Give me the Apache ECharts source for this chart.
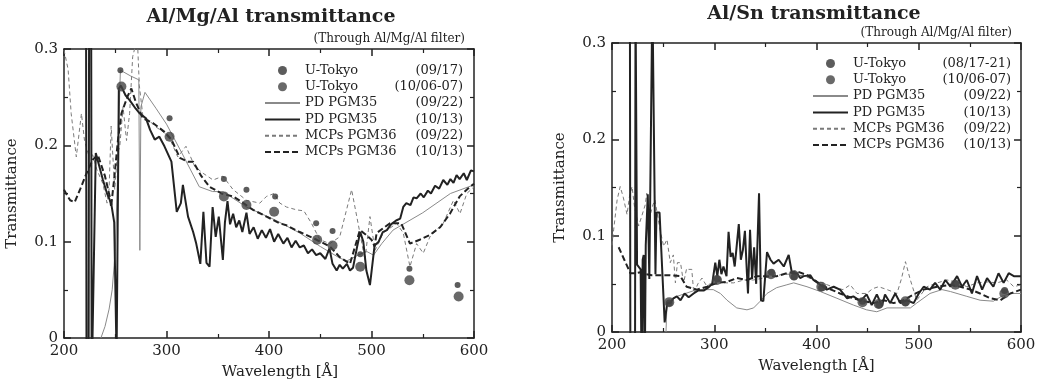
<!DOCTYPE html>
<html>
<head>
<meta charset="UTF-8">
<title>Transmittance</title>
<style>
  html, body { margin: 0; padding: 0; background: #fff; }
  #chart { width: 1039px; height: 387px; }
</style>
<script src="https://cdn.jsdelivr.net/npm/echarts@6/dist/echarts.min.js"></script>
</head>
<body>
<div id="chart"></div>
<script>
// ---- Al/Mg/Al (left) ----
const leftTokyoA = [[255,0.278],[303,0.228],[356,0.165],[378,0.154],[406,0.147],[446,0.119],[462,0.111],[489,0.087],[537,0.072],[584,0.055]];
const leftTokyoB = [[256,0.261],[303,0.209],[356,0.147],[378,0.138],[405,0.131],[447,0.102],[462,0.096],[489,0.074],[537,0.060],[585,0.043]];
const leftPdA = [[236,0],[240,0.012],[244,0.03],[247,0.05],[250,0.09],[252,0.16],[254,0.24],[255,0.278],[265,0.272],[273,0.268],[274,0.091],[275,0.24],[279,0.255],[290,0.238],[300,0.222],[315,0.192],[332,0.157],[345,0.152],[355,0.152],[365,0.145],[378,0.136],[407,0.122],[430,0.109],[450,0.095],[469,0.083],[476,0.080],[485,0.085],[495,0.09],[502,0.086],[510,0.098],[521,0.112],[550,0.13],[577,0.150],[600,0.159]];
const leftPdB = [[221.5,0.35],[222,-0.05],[224,-0.05],[224.5,0.35],[226.5,0.35],[227,-0.05],[228.5,-0.05],[231,0.192],[234,0.18],[238,0.164],[242,0.15],[246,0.14],[249,0.12],[251.3,-0.02],[252,-0.02],[253.5,0.259],[255.5,0.262],[260,0.252],[264,0.247],[270,0.238],[274,0.233],[280,0.228],[284,0.216],[288.5,0.206],[293,0.209],[298,0.199],[304.8,0.183],[310,0.131],[314,0.140],[316,0.159],[321,0.126],[326,0.110],[329,0.098],[333,0.077],[336,0.131],[339,0.078],[342,0.074],[345,0.136],[348,0.105],[351,0.126],[355,0.081],[357,0.12],[359.5,0.142],[362,0.118],[365,0.129],[368,0.115],[371,0.122],[374,0.110],[378,0.13],[381,0.108],[385,0.115],[389,0.103],[393,0.112],[397,0.104],[401,0.113],[405,0.100],[409,0.108],[414,0.098],[418,0.104],[422,0.094],[426,0.101],[430,0.094],[434,0.096],[438,0.088],[442,0.092],[446,0.086],[450,0.088],[455,0.082],[459,0.093],[462,0.077],[466,0.070],[469,0.076],[472,0.072],[476,0.077],[479,0.070],[482,0.073],[486,0.095],[489,0.110],[492,0.100],[495,0.070],[498.5,0.055],[503,0.096],[507,0.100],[511,0.110],[515,0.112],[519,0.118],[524,0.122],[528,0.124],[531,0.136],[534,0.140],[538,0.138],[541,0.146],[544,0.145],[548,0.150],[551,0.146],[555,0.153],[558,0.150],[562,0.158],[566,0.155],[570,0.164],[574,0.159],[577,0.165],[580,0.161],[583,0.169],[586,0.165],[590,0.171],[593,0.164],[597,0.174],[600,0.173]];
const leftMcpA = [[200,0.299],[204,0.279],[207,0.233],[212,0.188],[217,0.233],[220,0.205],[224,0.19],[228,0.19],[232,0.175],[238,0.16],[242,0.14],[244,0.155],[246,0.22],[249.5,0.154],[252,0.19],[254.5,0.2],[257.6,0.24],[261,0.205],[264,0.233],[267,0.292],[270,0.305],[272,0.3],[273.5,0.262],[277,0.23],[283,0.226],[288.5,0.22],[298,0.213],[304,0.205],[311,0.188],[319,0.199],[327.6,0.178],[335.7,0.171],[345.5,0.164],[355,0.168],[365,0.154],[378,0.143],[391,0.140],[397.6,0.147],[405,0.150],[410.6,0.140],[417,0.136],[427,0.133],[434,0.132],[441.5,0.119],[449.6,0.102],[459.4,0.098],[469,0.105],[480.6,0.154],[488.7,0.109],[493.6,0.081],[498.5,0.126],[503.4,0.091],[511.4,0.109],[524.5,0.119],[531,0.109],[537.5,0.074],[544,0.098],[550.5,0.088],[557,0.105],[570,0.119],[580,0.143],[586.3,0.129],[593,0.150],[600,0.157]];
const leftMcpB = [[200,0.154],[202,0.150],[206,0.143],[210.4,0.141],[216,0.155],[222,0.171],[228,0.185],[233,0.19],[240,0.168],[244.6,0.147],[246,0.136],[249.5,0.171],[252.7,0.206],[256,0.233],[259,0.242],[262.5,0.252],[265.7,0.259],[270,0.245],[277,0.228],[287,0.223],[298,0.214],[304.8,0.206],[313,0.187],[321,0.183],[326,0.183],[334,0.168],[342,0.157],[353.6,0.150],[365,0.147],[375,0.140],[384.5,0.133],[397.6,0.126],[410.6,0.119],[417,0.117],[430,0.110],[446.4,0.102],[459.4,0.095],[469,0.084],[479,0.077],[488.7,0.112],[493.6,0.108],[500,0.102],[503,0.095],[505,0.109],[518,0.119],[529,0.119],[537.5,0.098],[547,0.102],[557,0.107],[567,0.115],[576.5,0.129],[586,0.147],[596,0.157],[600,0.160]];

// ---- Al/Sn (right) ----
const rightTokyoA = [[256,0.030],[303,0.055],[356,0.062],[378,0.057],[405,0.046],[445,0.032],[461,0.028],[487,0.030],[536,0.050],[584,0.043]];
const rightTokyoB = [[256,0.031],[302.7,0.054],[355.5,0.060],[378,0.059],[404.7,0.047],[445,0.031],[460.8,0.029],[487,0.032],[535.8,0.049],[583.7,0.040]];
const rightPdA = [[252.8,0],[253.8,0.03],[263.6,0.037],[283,0.044],[299,0.044],[306,0.040],[312.5,0.033],[322,0.025],[332,0.023],[338.5,0.025],[345,0.032],[351.6,0.040],[361,0.046],[371,0.049],[377.7,0.051],[390.7,0.047],[403.8,0.042],[420,0.035],[436,0.028],[449,0.023],[459,0.021],[469,0.025],[478.7,0.025],[491.8,0.025],[498,0.030],[511,0.040],[522.7,0.044],[531,0.042],[547,0.037],[560,0.033],[573,0.032],[581,0.037],[589.6,0.040],[600,0.040]];
const rightPdB = [[217.5,0.35],[218,-0.05],[222.5,-0.05],[223,0.35],[223.5,0.35],[224.5,0.07],[228,0.065],[229,-0.05],[230,0.075],[231,0.08],[232,-0.05],[233,0.09],[235,0.143],[236.5,0.055],[239.5,0.35],[241,0.35],[242.5,0.06],[243.5,0.124],[246.5,0.124],[251.5,0.01],[254,0.03],[257,0.030],[260,0.035],[263.4,0.037],[267,0.033],[271,0.040],[275,0.036],[279.8,0.040],[284,0.043],[289.6,0.043],[294,0.046],[298,0.050],[301,0.072],[303,0.058],[305,0.075],[307,0.060],[309,0.068],[312,0.058],[314,0.104],[316,0.078],[318,0.082],[320,0.068],[322,0.090],[324,0.112],[326,0.075],[328,0.085],[330,0.105],[332,0.060],[333,0.040],[335,0.106],[337,0.055],[339,0.088],[341,0.050],[343.8,0.144],[345.7,0.033],[348,0.032],[351.6,0.083],[355,0.075],[358,0.071],[363,0.075],[368,0.068],[372.8,0.080],[376,0.061],[381,0.061],[384,0.056],[387.5,0.058],[394,0.059],[397,0.054],[403.7,0.049],[410,0.044],[416.8,0.047],[423,0.044],[430,0.035],[436,0.037],[443,0.032],[449,0.039],[454,0.028],[459,0.039],[464,0.027],[467,0.039],[472,0.030],[477,0.040],[482,0.030],[488.5,0.033],[495,0.030],[500,0.040],[504.8,0.047],[511,0.044],[516,0.051],[521,0.044],[526,0.054],[531,0.047],[537.5,0.058],[542.3,0.047],[547,0.054],[552,0.040],[557,0.058],[562,0.044],[566.8,0.056],[573,0.047],[578,0.061],[583,0.051],[588,0.061],[593,0.058],[600,0.058]];
const rightMcpA = [[200,0.09],[201.6,0.106],[205,0.137],[208,0.151],[211,0.14],[214.7,0.122],[217,0.14],[219.6,0.151],[222,0.13],[226,0.110],[229,0.12],[232.5,0.132],[234,0.144],[237,0.12],[240,0.132],[242,0.137],[247,0.106],[250.5,0.089],[253.8,0.096],[257,0.072],[260,0.08],[262,0.051],[264,0.072],[267,0.072],[270,0.051],[273,0.066],[275,0.065],[278,0.065],[280,0.040],[284,0.05],[288,0.056],[293,0.047],[301,0.056],[309,0.051],[319,0.051],[329,0.054],[338.6,0.054],[348,0.056],[358,0.058],[368,0.060],[378,0.060],[388,0.058],[398,0.054],[408,0.050],[418,0.046],[426,0.044],[433,0.049],[439.6,0.040],[449,0.040],[455,0.045],[460.8,0.047],[469,0.044],[478.7,0.040],[483,0.055],[487,0.073],[491.8,0.054],[498,0.033],[508,0.047],[518,0.051],[527.6,0.054],[537.4,0.052],[547,0.047],[557,0.051],[566.8,0.052],[576.5,0.051],[586,0.054],[593,0.047],[600,0.049]];
const rightMcpB = [[206.5,0.088],[212,0.075],[218,0.061],[222.8,0.061],[228,0.062],[233,0.060],[239,0.059],[247,0.059],[256,0.059],[266.8,0.058],[273,0.047],[283,0.044],[293,0.047],[302.7,0.051],[312.5,0.052],[322,0.056],[332,0.054],[341.8,0.058],[351.6,0.058],[361.4,0.058],[371,0.061],[381,0.063],[390.7,0.059],[400.5,0.052],[410,0.046],[423,0.040],[436,0.035],[446,0.032],[456,0.030],[465.7,0.033],[475.5,0.030],[485,0.033],[495,0.039],[504.8,0.044],[517.9,0.047],[531,0.049],[540.7,0.047],[550.5,0.044],[560,0.040],[570,0.035],[579.8,0.033],[589.6,0.040],[600,0.044]];

const leftNames = ['U-Tokyo (09/17)', 'U-Tokyo (10/06-07)', 'PD PGM35 (09/22)', 'PD PGM35 (10/13)', 'MCPs PGM36 (09/22)', 'MCPs PGM36 (10/13)'];
const rightNames = ['U-Tokyo (08/17-21)', 'U-Tokyo (10/06-07)', 'PD PGM35 (09/22)', 'PD PGM35 (10/13)', 'MCPs PGM36 (09/22)', 'MCPs PGM36 (10/13)'];

const FONT = '"DejaVu Serif", "Liberation Serif", serif';
const INK = '#222';

const chart = echarts.init(document.getElementById('chart'));

function xAxes(g) {
  const base = {
    type: 'value', gridIndex: g, min: 200, max: 600, interval: 100,
    axisLine: { show: true, onZero: false, lineStyle: { color: INK, width: 1.5 } },
    axisTick: { inside: true, length: 7, lineStyle: { color: INK, width: 1.5 } },
    minorTick: { show: true, splitNumber: 2, length: 4, lineStyle: { color: INK, width: 1.2 } },
    splitLine: { show: false }
  };
  return [
    Object.assign({}, base, {
      position: 'bottom',
      axisLabel: { margin: 6, fontFamily: FONT, fontSize: 15, color: INK },
      name: 'Wavelength [Å]', nameLocation: 'middle', nameGap: 27,
      nameTextStyle: { fontFamily: FONT, fontSize: 15, color: INK, padding: g === 0 ? [0, 0, 0, 22] : 0 }
    }),
    Object.assign({}, base, { position: 'top', axisLabel: { show: false } })
  ];
}

function yAxes(g) {
  const base = {
    type: 'value', gridIndex: g, min: 0, max: 0.3, interval: 0.1,
    axisLine: { show: true, onZero: false, lineStyle: { color: INK, width: 1.5 } },
    axisTick: { inside: true, length: 7, lineStyle: { color: INK, width: 1.5 } },
    minorTick: { show: true, splitNumber: 2, length: 4, lineStyle: { color: INK, width: 1.2 } },
    splitLine: { show: false }
  };
  return [
    Object.assign({}, base, {
      position: 'left',
      axisLabel: { margin: 6, fontFamily: FONT, fontSize: 15, color: INK },
      name: 'Transmittance', nameLocation: 'middle', nameGap: 44,
      nameTextStyle: { fontFamily: FONT, fontSize: 15, color: INK }
    }),
    Object.assign({}, base, { position: 'right', axisLabel: { show: false } })
  ];
}

function lineSeries(name, data, xi, yi, color, width, type) {
  return {
    name: name, type: 'line', xAxisIndex: xi, yAxisIndex: yi, data: data,
    symbol: 'none', clip: true, animation: false,
    lineStyle: { color: color, width: width, type: type },
    itemStyle: { color: color }
  };
}

function dotSeries(name, data, xi, yi, size, color) {
  return {
    name: name, type: 'scatter', xAxisIndex: xi, yAxisIndex: yi, data: data,
    symbol: 'circle', symbolSize: size, z: 5, animation: false,
    itemStyle: { color: color }
  };
}

// line entries get no marker in the legend, only the stroke
function legendFor(names, left, top) {
  const items = names.map(function (n, i) {
    if (i < 2) return { name: n, icon: 'circle' };
    return { name: n, itemStyle: { color: 'rgba(0,0,0,0)', borderColor: 'rgba(0,0,0,0)', borderWidth: 0, opacity: 0 } };
  });
  return {
    data: items, orient: 'vertical', left: left, top: top, padding: 0,
    itemWidth: 35, itemHeight: 9, itemGap: 3.3, selectedMode: false,
    formatter: function (name) {
      const i = name.indexOf(' (');
      return '{n|' + name.slice(0, i) + '}{d|' + name.slice(i + 1) + '}';
    },
    textStyle: {
      color: INK,
      rich: {
        n: { width: 86, fontFamily: FONT, fontSize: 13, lineHeight: 13, color: INK },
        d: { width: 72, align: 'right', fontFamily: FONT, fontSize: 13, lineHeight: 13, color: INK }
      }
    }
  };
}

chart.setOption({
  backgroundColor: '#fff',
  animation: false,
  grid: [
    { left: 64, top: 49, width: 410, height: 289 },
    { left: 612, top: 43, width: 409, height: 289 }
  ],
  xAxis: xAxes(0).concat(xAxes(1)),
  yAxis: yAxes(0).concat(yAxes(1)),
  legend: [legendFor(leftNames, 264, 64), legendFor(rightNames, 812, 57)],
  graphic: [
    { type: 'text', x: 271, y: 17, style: { text: 'Al/Mg/Al transmittance', font: 'bold 19px ' + FONT, fill: INK, align: 'center', verticalAlign: 'middle' } },
    { type: 'text', x: 465, y: 39, style: { text: '(Through Al/Mg/Al filter)', font: '12px ' + FONT, fill: INK, align: 'right', verticalAlign: 'middle' } },
    { type: 'text', x: 814, y: 14, style: { text: 'Al/Sn transmittance', font: 'bold 19px ' + FONT, fill: INK, align: 'center', verticalAlign: 'middle' } },
    { type: 'text', x: 1012, y: 33, style: { text: '(Through Al/Mg/Al filter)', font: '12px ' + FONT, fill: INK, align: 'right', verticalAlign: 'middle' } }
  ],
  series: [
    lineSeries(leftNames[2], leftPdA, 0, 0, '#8a8a8a', 1, 'solid'),
    lineSeries(leftNames[4], leftMcpA, 0, 0, '#7a7a7a', 1, [4, 3]),
    lineSeries(leftNames[5], leftMcpB, 0, 0, INK, 2, [6, 3]),
    lineSeries(leftNames[3], leftPdB, 0, 0, INK, 2, 'solid'),
    dotSeries(leftNames[0], leftTokyoA, 0, 0, 6, '#333'),
    dotSeries(leftNames[1], leftTokyoB, 0, 0, 10, '#444'),

    lineSeries(rightNames[2], rightPdA, 2, 2, '#8a8a8a', 1, 'solid'),
    lineSeries(rightNames[4], rightMcpA, 2, 2, '#7a7a7a', 1, [4, 3]),
    lineSeries(rightNames[5], rightMcpB, 2, 2, INK, 2, [6, 3]),
    lineSeries(rightNames[3], rightPdB, 2, 2, INK, 2, 'solid'),
    dotSeries(rightNames[0], rightTokyoA, 2, 2, 7, '#333'),
    dotSeries(rightNames[1], rightTokyoB, 2, 2, 10, '#444')
  ]
});
</script>
</body>
</html>
